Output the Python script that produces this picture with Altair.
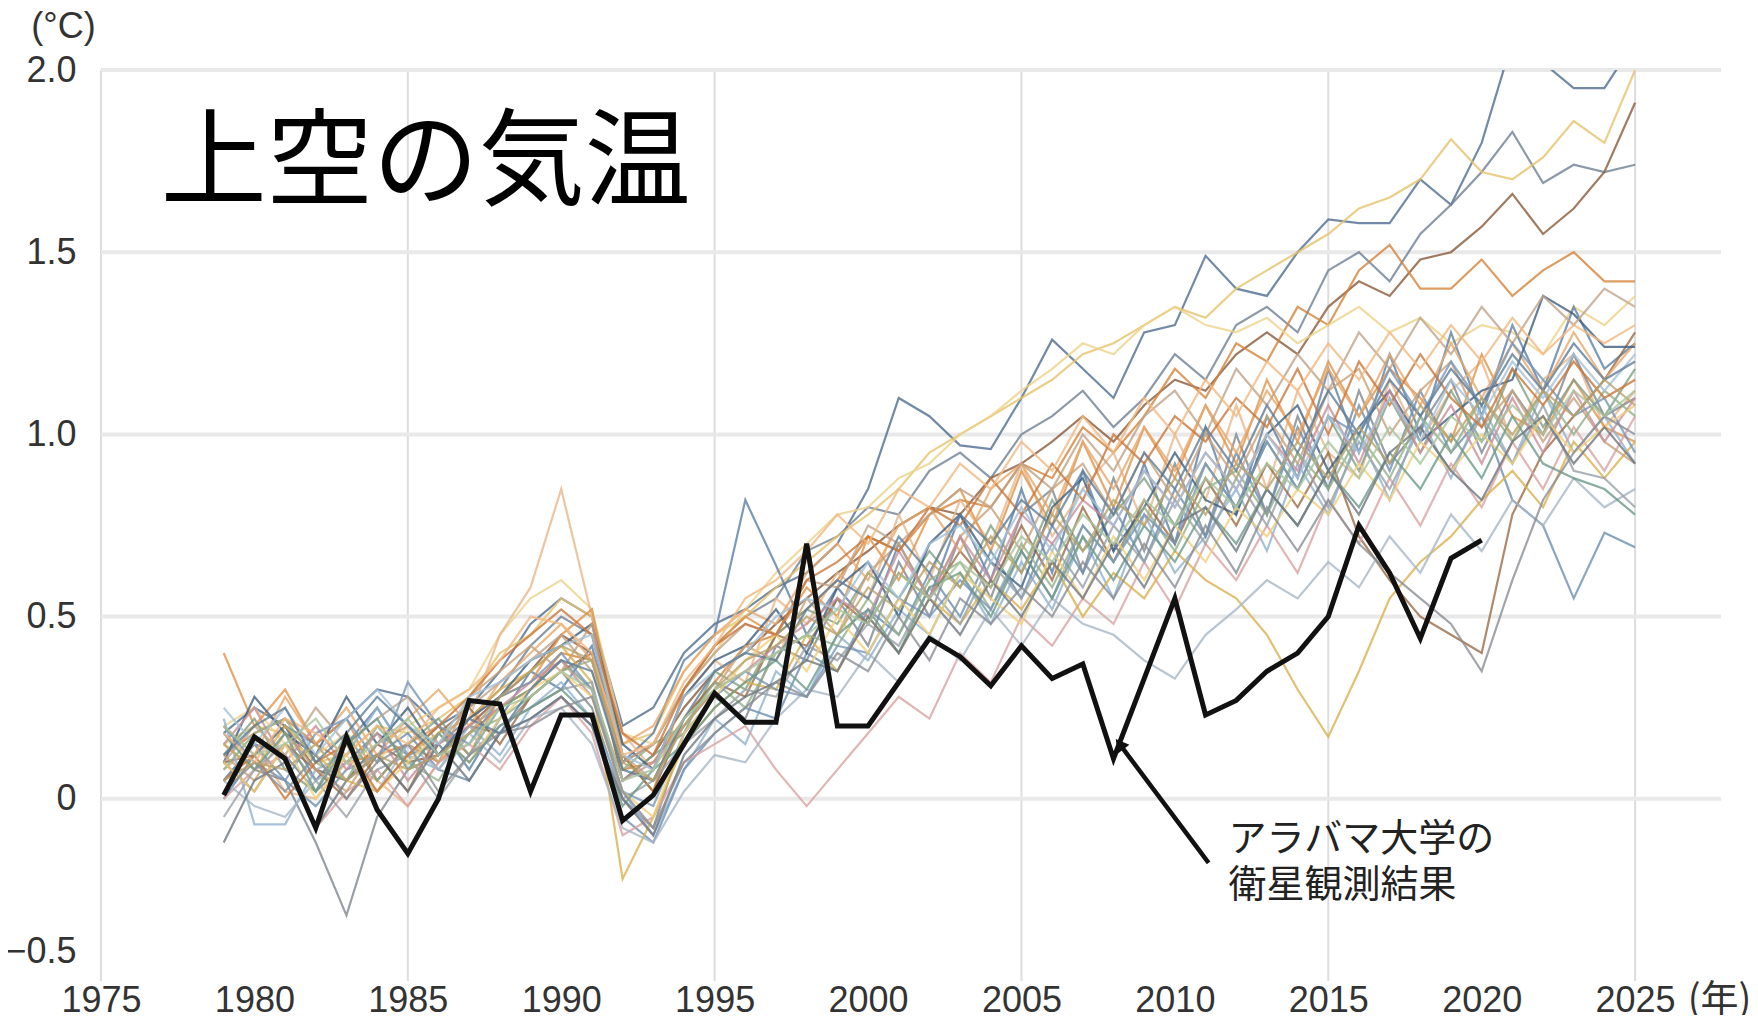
import altair as alt
import pandas as pd

# ---------------- data ----------------
years = list(range(1979, 2026))          # model years (47)
obs_years = list(range(1979, 2021))      # observation years (42)

# UAH satellite observations (black line)
obs = [0.01, 0.17, 0.11, -0.08, 0.17, -0.03, -0.15, 0.00, 0.27, 0.26,
       0.02, 0.23, 0.23, -0.06, 0.01, 0.15, 0.29, 0.21, 0.21, 0.70,
       0.20, 0.20, 0.32, 0.44, 0.39, 0.31, 0.42, 0.33, 0.37, 0.11,
       0.33, 0.55, 0.23, 0.27, 0.35, 0.40, 0.50, 0.75, 0.62, 0.44,
       0.66, 0.71]

m01 = [0.18, 0.25, 0.20, 0.15, 0.22, 0.30, 0.28, 0.20, 0.25, 0.35,
       0.48, 0.55, 0.50, 0.20, 0.25, 0.40, 0.48, 0.52, 0.58, 0.62,
       0.70, 0.85, 1.10, 1.05, 0.97, 0.96, 1.10, 1.26, 1.18, 1.10,
       1.28, 1.30, 1.49, 1.40, 1.38, 1.50, 1.59, 1.58, 1.58, 1.70,
       1.63, 1.80, 2.08, 2.02, 1.95, 1.95, 2.08]
m02 = [0.05, 0.15, 0.12, 0.02, 0.10, 0.18, 0.12, 0.15, 0.22, 0.30,
       0.42, 0.50, 0.45, 0.10, 0.15, 0.30, 0.42, 0.50, 0.55, 0.68,
       0.72, 0.80, 0.78, 0.90, 0.95, 0.88, 1.00, 1.05, 1.12, 1.02,
       1.10, 1.22, 1.15, 1.30, 1.35, 1.28, 1.45, 1.50, 1.42, 1.55,
       1.63, 1.72, 1.83, 1.69, 1.74, 1.72, 1.74]
m03 = [0.10, 0.12, 0.20, 0.08, 0.05, 0.15, 0.10, 0.12, 0.20, 0.28,
       0.35, 0.45, 0.40, 0.05, 0.12, 0.25, 0.35, 0.40, 0.48, 0.55,
       0.62, 0.68, 0.75, 0.80, 0.78, 0.88, 0.92, 0.98, 1.05, 0.98,
       1.08, 1.15, 1.12, 1.22, 1.28, 1.22, 1.35, 1.42, 1.38, 1.48,
       1.50, 1.57, 1.66, 1.55, 1.62, 1.72, 1.91]
m04 = [0.15, 0.20, 0.18, 0.10, 0.12, 0.20, 0.18, 0.22, 0.28, 0.40,
       0.45, 0.55, 0.50, 0.15, 0.18, 0.35, 0.45, 0.50, 0.58, 0.65,
       0.72, 0.78, 0.85, 0.95, 1.00, 1.05, 1.10, 1.15, 1.22, 1.25,
       1.30, 1.35, 1.32, 1.40, 1.45, 1.50, 1.55, 1.62, 1.65, 1.70,
       1.81, 1.72, 1.70, 1.76, 1.86, 1.80, 2.00]
m05 = [0.12, 0.18, 0.22, 0.15, 0.10, 0.12, 0.15, 0.10, 0.18, 0.25,
       0.30, 0.40, 0.38, 0.08, 0.10, 0.22, 0.32, 0.42, 0.45, 0.52,
       0.60, 0.72, 0.68, 0.78, 0.82, 0.80, 0.92, 0.88, 1.02, 0.95,
       1.05, 1.18, 1.10, 1.25, 1.20, 1.35, 1.30, 1.45, 1.52, 1.40,
       1.40, 1.48, 1.38, 1.45, 1.50, 1.42, 1.42]
m06 = [0.20, 0.25, 0.15, 0.12, 0.18, 0.10, 0.20, 0.25, 0.30, 0.45,
       0.55, 0.60, 0.52, 0.18, 0.15, 0.30, 0.40, 0.52, 0.62, 0.70,
       0.78, 0.80, 0.88, 0.92, 1.00, 1.05, 1.12, 1.18, 1.25, 1.22,
       1.30, 1.35, 1.30, 1.28, 1.32, 1.25, 1.30, 1.35, 1.28, 1.32,
       1.25, 1.30, 1.28, 1.22, 1.35, 1.30, 1.38]
m07 = [0.00, 0.12, 0.20, 0.05, 0.15, 0.25, 0.12, 0.20, 0.08, 0.22,
       0.35, 0.30, 0.42, 0.10, 0.18, 0.38, 0.45, 0.82, 0.64, 0.45,
       0.58, 0.48, 0.70, 0.55, 0.78, 0.60, 0.85, 0.62, 0.90, 0.68,
       0.92, 0.70, 1.02, 0.78, 1.05, 0.88, 1.18, 0.95, 1.22, 1.00,
       1.28, 1.05, 1.30, 1.12, 1.35, 1.18, 1.25]
m08 = [0.08, 0.15, 0.02, 0.00, 0.10, 0.05, -0.02, 0.10, 0.22, 0.45,
       0.58, 0.85, 0.50, 0.18, 0.08, 0.28, 0.38, 0.32, 0.55, 0.48,
       0.62, 0.55, 0.78, 0.60, 0.82, 0.70, 0.92, 0.72, 0.85, 0.95,
       0.75, 1.00, 0.82, 1.08, 0.85, 1.12, 0.95, 0.88, 1.15, 0.98,
       1.12, 1.20, 0.98, 1.15, 1.22, 1.02, 1.12]
m09 = [0.15, 0.08, 0.05, -0.12, -0.32, -0.05, 0.08, 0.12, 0.20, 0.18,
       0.28, 0.35, 0.25, 0.00, -0.08, 0.18, 0.28, 0.22, 0.42, 0.38,
       0.55, 0.42, 0.65, 0.50, 0.72, 0.55, 0.78, 0.85, 0.62, 0.88,
       0.68, 0.92, 0.72, 1.00, 0.78, 1.05, 0.85, 1.12, 0.92, 1.02,
       1.15, 0.95, 1.12, 1.00, 1.22, 1.05, 1.10]
m10 = [0.40, 0.20, 0.30, 0.15, 0.22, 0.05, 0.15, 0.20, 0.12, 0.28,
       0.32, 0.45, 0.52, 0.12, 0.02, 0.30, 0.42, 0.50, 0.45, 0.58,
       0.50, 0.72, 0.60, 0.78, 0.85, 0.68, 0.90, 0.75, 0.98, 0.80,
       1.02, 0.88, 1.08, 0.92, 1.15, 0.98, 1.20, 1.05, 1.18, 1.10,
       0.98, 1.22, 1.05, 1.00, 1.15, 1.02, 0.98]
m11 = [0.22, -0.07, -0.07, 0.08, 0.12, 0.25, 0.12, 0.08, 0.20, 0.12,
       0.25, 0.32, 0.22, 0.02, -0.10, 0.08, 0.22, 0.15, 0.35, 0.28,
       0.45, 0.38, 0.52, 0.45, 0.62, 0.48, 0.65, 0.52, 0.72, 0.55,
       0.78, 0.62, 0.72, 0.85, 0.68, 0.92, 0.78, 1.00, 0.82, 1.05,
       0.88, 1.08, 0.92, 1.12, 0.95, 1.05, 0.92]
m12 = [0.05, 0.15, 0.05, -0.02, 0.08, 0.12, 0.18, 0.08, 0.05, 0.18,
       0.22, 0.28, 0.20, -0.05, -0.12, 0.08, 0.18, 0.25, 0.22, 0.40,
       0.35, 0.52, 0.45, 0.62, 0.50, 0.68, 0.55, 0.75, 0.62, 0.80,
       0.65, 0.85, 0.72, 0.95, 0.78, 1.02, 0.85, 1.08, 0.90, 1.12,
       0.95, 1.05, 0.82, 0.75, 0.55, 0.73, 0.69]
m13 = [0.12, 0.22, 0.08, 0.02, 0.18, 0.05, 0.15, 0.22, 0.12, 0.25,
       0.30, 0.38, 0.30, 0.05, 0.12, 0.18, 0.35, 0.30, 0.45, 0.52,
       0.48, 0.62, 0.55, 0.68, 0.58, 0.75, 0.62, 0.82, 0.68, 0.78,
       0.88, 0.75, 0.92, 0.80, 0.98, 0.85, 1.05, 0.90, 1.10, 0.95,
       1.12, 0.98, 1.18, 1.02, 1.15, 1.05, 1.18]
m14 = [0.10, 0.02, 0.15, 0.08, 0.00, 0.12, 0.02, 0.18, 0.25, 0.15,
       0.28, 0.35, 0.40, 0.12, 0.02, 0.22, 0.32, 0.28, 0.45, 0.42,
       0.55, 0.48, 0.62, 0.55, 0.68, 0.58, 0.75, 0.60, 0.80, 0.65,
       0.82, 0.70, 0.88, 0.75, 0.92, 0.80, 0.95, 0.72, 0.60, 0.50,
       0.45, 0.40, 0.78, 0.95, 1.05, 1.15, 1.28]
m15 = [0.00, 0.08, 0.12, -0.08, 0.02, 0.08, -0.02, 0.10, 0.15, 0.08,
       0.20, 0.28, 0.18, -0.10, -0.05, 0.10, 0.15, 0.20, 0.08, -0.02,
       0.08, 0.18, 0.28, 0.22, 0.40, 0.32, 0.50, 0.42, 0.55, 0.48,
       0.65, 0.52, 0.70, 0.60, 0.75, 0.62, 0.82, 0.70, 0.88, 0.75,
       0.92, 0.80, 0.98, 0.85, 1.02, 0.90, 1.05]
m16 = [0.15, 0.08, 0.20, 0.12, 0.05, 0.02, 0.12, 0.18, 0.22, 0.30,
       0.35, 0.42, 0.32, -0.22, -0.05, 0.15, 0.25, 0.32, 0.30, 0.45,
       0.35, 0.50, 0.40, 0.55, 0.48, 0.60, 0.52, 0.65, 0.50, 0.62,
       0.55, 0.68, 0.60, 0.55, 0.45, 0.30, 0.17, 0.35, 0.55, 0.65,
       0.72, 0.82, 0.90, 0.80, 0.98, 0.88, 0.98]
m17 = [0.05, -0.02, -0.05, 0.05, 0.10, 0.02, 0.15, 0.08, 0.18, 0.10,
       0.22, 0.25, 0.15, -0.08, -0.12, 0.02, 0.12, 0.10, 0.22, 0.30,
       0.28, 0.40, 0.32, 0.45, 0.38, 0.52, 0.42, 0.55, 0.48, 0.45,
       0.38, 0.33, 0.45, 0.52, 0.60, 0.55, 0.65, 0.58, 0.72, 0.62,
       0.78, 0.68, 0.82, 0.75, 0.88, 0.80, 0.85]
m18 = [0.20, 0.12, 0.28, 0.15, 0.25, 0.12, 0.22, 0.30, 0.20, 0.32,
       0.40, 0.48, 0.38, 0.15, 0.20, 0.35, 0.45, 0.52, 0.48, 0.62,
       0.70, 0.60, 0.75, 0.80, 0.68, 0.85, 0.92, 0.78, 0.98, 0.85,
       1.02, 0.90, 1.08, 0.95, 1.12, 1.00, 1.18, 1.05, 1.22, 1.08,
       1.25, 1.10, 1.25, 1.12, 1.28, 1.15, 1.25]
m19 = [0.10, 0.28, 0.18, 0.12, 0.28, 0.15, 0.25, 0.12, 0.22, 0.28,
       0.38, 0.42, 0.48, 0.15, 0.08, 0.28, 0.38, 0.42, 0.52, 0.40,
       0.58, 0.65, 0.50, 0.70, 0.78, 0.65, 0.58, 0.80, 0.88, 0.68,
       0.80, 0.95, 0.82, 0.78, 1.00, 1.08, 0.90, 1.02, 1.12, 0.98,
       1.05, 1.12, 1.15, 1.38, 1.33, 1.24, 1.24]
m20 = [0.12, 0.05, 0.18, 0.08, 0.02, 0.15, 0.20, 0.10, 0.28, 0.35,
       0.42, 0.35, 0.48, 0.12, 0.05, 0.22, 0.30, 0.42, 0.38, 0.55,
       0.45, 0.62, 0.70, 0.55, 0.72, 0.80, 0.68, 0.85, 0.92, 0.78,
       0.95, 0.82, 1.00, 0.88, 1.05, 0.92, 1.12, 1.18, 1.00, 1.12,
       1.20, 1.02, 1.12, 0.98, 1.10, 0.98, 0.92]
m21 = [-0.05, 0.08, 0.15, 0.05, -0.05, 0.08, 0.12, 0.00, 0.12, 0.20,
       0.25, 0.30, 0.32, 0.00, 0.05, 0.15, 0.22, 0.30, 0.28, 0.42,
       0.38, 0.48, 0.42, 0.58, 0.48, 0.65, 0.55, 0.70, 0.58, 0.75,
       0.65, 0.82, 0.70, 0.88, 0.75, 0.95, 0.80, 0.98, 0.85, 1.02,
       0.90, 1.05, 0.92, 1.08, 0.90, 0.88, 0.80]
m22 = [0.15, 0.25, 0.10, 0.20, 0.08, 0.18, 0.05, 0.15, 0.20, 0.25,
       0.32, 0.38, 0.28, 0.05, 0.10, 0.20, 0.30, 0.35, 0.42, 0.48,
       0.55, 0.50, 0.68, 0.55, 0.72, 0.60, 0.78, 0.70, 0.82, 0.75,
       0.90, 0.80, 0.95, 0.85, 1.00, 0.90, 1.08, 0.92, 1.12, 0.95,
       1.08, 0.92, 1.10, 0.95, 1.12, 0.98, 1.10]
m23 = [0.08, 0.18, 0.22, 0.10, 0.05, 0.20, 0.10, 0.05, 0.18, 0.22,
       0.28, 0.35, 0.38, 0.08, 0.15, 0.20, 0.32, 0.25, 0.40, 0.45,
       0.42, 0.55, 0.45, 0.60, 0.65, 0.52, 0.70, 0.58, 0.75, 0.65,
       0.80, 0.68, 0.85, 0.90, 0.78, 0.95, 0.85, 1.00, 0.88, 1.05,
       0.95, 1.10, 0.98, 1.12, 1.00, 1.12, 1.05]
m24 = [0.10, 0.20, 0.12, 0.25, 0.15, 0.22, 0.28, 0.15, 0.25, 0.32,
       0.38, 0.45, 0.35, 0.10, 0.15, 0.30, 0.40, 0.48, 0.45, 0.60,
       0.58, 0.75, 0.70, 0.78, 0.85, 0.80, 0.92, 0.85, 1.00, 0.90,
       1.05, 1.12, 1.00, 1.18, 1.08, 1.22, 1.12, 1.28, 1.18, 1.32,
       1.22, 1.35, 1.25, 1.38, 1.30, 1.40, 1.35]
m25 = [0.20, 0.10, 0.05, 0.18, 0.22, 0.10, 0.32, 0.20, 0.15, 0.28,
       0.32, 0.40, 0.30, 0.02, -0.02, 0.18, 0.28, 0.35, 0.30, 0.28,
       0.42, 0.40, 0.55, 0.50, 0.60, 0.52, 0.68, 0.55, 0.75, 0.65,
       0.78, 0.70, 0.92, 0.80, 0.98, 0.85, 1.05, 1.00, 1.18, 1.05,
       1.20, 1.08, 1.25, 1.15, 1.05, 1.10, 0.95]
m26 = [0.10, 0.02, 0.15, 0.00, 0.12, 0.02, 0.10, 0.18, 0.10, 0.22,
       0.30, 0.35, 0.28, 0.02, -0.05, 0.18, 0.28, 0.38, 0.45, 0.35,
       0.50, 0.40, 0.55, 0.45, 0.62, 0.55, 0.48, 0.68, 0.55, 0.72,
       0.60, 0.75, 0.65, 0.80, 0.72, 0.85, 0.78, 0.92, 0.82, 0.98,
       0.90, 1.00, 0.92, 1.05, 0.95, 1.02, 1.08]
m27 = [0.05, 0.12, 0.00, 0.10, 0.15, 0.02, 0.12, 0.20, 0.28, 0.38,
       0.45, 0.52, 0.45, 0.18, 0.12, 0.30, 0.42, 0.48, 0.45, 0.60,
       0.65, 0.72, 0.68, 0.80, 0.75, 0.88, 0.78, 0.92, 0.82, 1.00,
       0.92, 1.05, 0.98, 1.10, 1.02, 1.18, 1.00, 1.20, 1.08, 1.22,
       1.10, 1.02, 1.18, 1.08, 1.20, 1.10, 1.15]
m28 = [0.18, 0.08, 0.18, 0.02, 0.15, 0.22, 0.08, 0.18, 0.10, 0.20,
       0.25, 0.30, 0.22, -0.02, 0.08, 0.15, 0.25, 0.32, 0.38, 0.30,
       0.45, 0.52, 0.40, 0.58, 0.62, 0.50, 0.68, 0.55, 0.72, 0.60,
       0.75, 0.65, 0.80, 0.70, 0.85, 0.75, 0.90, 0.80, 0.95, 0.85,
       1.00, 0.88, 1.05, 0.92, 0.88, 0.85, 0.78]
m29 = [-0.12, 0.05, 0.10, -0.08, 0.05, 0.12, 0.02, 0.15, 0.05, 0.18,
       0.22, 0.28, 0.20, 0.00, -0.10, 0.12, 0.22, 0.28, 0.32, 0.38,
       0.35, 0.50, 0.40, 0.55, 0.45, 0.60, 0.50, 0.65, 0.55, 0.70,
       0.58, 0.75, 0.80, 0.68, 0.85, 0.75, 0.90, 0.78, 0.95, 1.02,
       0.90, 0.82, 0.98, 1.05, 0.92, 1.02, 0.92]
m30 = [0.25, 0.15, 0.25, 0.12, 0.22, 0.30, 0.20, 0.15, 0.28, 0.32,
       0.38, 0.42, 0.45, 0.12, 0.08, 0.28, 0.35, 0.40, 0.50, 0.55,
       0.52, 0.65, 0.55, 0.70, 0.75, 0.65, 0.80, 0.68, 0.85, 0.75,
       0.90, 0.80, 0.95, 0.85, 1.00, 0.88, 1.05, 0.95, 1.10, 0.98,
       1.15, 1.05, 1.20, 1.10, 1.22, 1.12, 1.22]
m31 = [0.02, 0.10, 0.02, 0.12, 0.00, 0.10, 0.15, 0.02, 0.12, 0.18,
       0.20, 0.25, 0.28, 0.02, -0.08, 0.10, 0.18, 0.25, 0.32, 0.28,
       0.40, 0.35, 0.50, 0.38, 0.55, 0.48, 0.58, 0.50, 0.65, 0.55,
       0.70, 0.58, 0.75, 0.62, 0.80, 0.68, 0.82, 0.70, 0.62, 0.55,
       0.48, 0.35, 0.60, 0.82, 0.95, 1.05, 1.00]
m32 = [0.18, 0.10, 0.22, 0.18, 0.12, 0.20, 0.15, 0.25, 0.30, 0.38,
       0.50, 0.48, 0.40, 0.12, 0.15, 0.32, 0.42, 0.55, 0.60, 0.68,
       0.78, 0.70, 0.85, 0.80, 0.92, 0.85, 0.98, 0.90, 1.05, 0.95,
       1.10, 1.00, 1.15, 1.05, 1.20, 1.12, 1.25, 1.15, 1.28, 1.18,
       1.30, 1.20, 1.32, 1.22, 1.30, 1.25, 1.30]
m33 = [0.12, 0.20, 0.25, 0.10, 0.18, 0.28, 0.20, 0.12, 0.22, 0.18,
       0.30, 0.38, 0.35, 0.08, 0.05, 0.22, 0.35, 0.40, 0.38, 0.52,
       0.60, 0.55, 0.72, 0.62, 0.78, 0.70, 0.82, 0.75, 0.90, 0.78,
       0.95, 0.85, 1.02, 0.90, 1.08, 0.95, 1.12, 1.00, 1.15, 1.05,
       1.18, 1.08, 1.22, 1.12, 1.25, 1.15, 1.20]
m34 = [0.05, 0.10, 0.08, 0.15, 0.05, 0.12, 0.08, 0.12, 0.18, 0.28,
       0.35, 0.42, 0.38, 0.10, 0.05, 0.20, 0.30, 0.38, 0.42, 0.50,
       0.45, 0.58, 0.52, 0.65, 0.58, 0.72, 0.62, 0.78, 0.68, 0.82,
       0.75, 0.88, 0.78, 0.92, 0.85, 0.98, 0.88, 1.02, 0.92, 1.08,
       0.98, 1.10, 1.00, 1.12, 1.05, 1.15, 1.08]
m35 = [0.20, 0.12, 0.15, 0.22, 0.10, 0.15, 0.22, 0.12, 0.15, 0.25,
       0.28, 0.35, 0.30, 0.05, 0.08, 0.22, 0.30, 0.35, 0.40, 0.45,
       0.52, 0.48, 0.62, 0.55, 0.65, 0.58, 0.72, 0.65, 0.78, 0.70,
       0.82, 0.75, 0.88, 0.80, 0.92, 0.85, 0.98, 0.88, 1.02, 0.92,
       1.05, 0.98, 1.08, 1.00, 1.12, 1.05, 1.12]

model_series = [m01, m02, m03, m04, m05, m06, m07, m08, m09, m10,
                m11, m12, m13, m14, m15, m16, m17, m18, m19, m20,
                m21, m22, m23, m24, m25, m26, m27, m28, m29, m30,
                m31, m32, m33, m34, m35]
model_colors = ["#4f6d8f", "#6f7f94", "#8a5a3a", "#e6c36a", "#d6833a",
                "#ecd38a", "#5b7fa6", "#e8b68a", "#7f8790", "#e0944a",
                "#8fb3cf", "#6d8fb0", "#7fa083", "#9b6b45", "#d9a3a3",
                "#d9b24e", "#a8b6c4", "#e8a86a", "#3f5f7f", "#c8a27a",
                "#9aa1a8", "#c98f9a", "#93b08a", "#bfa38a", "#7896b8",
                "#f0cf7a", "#c9773c", "#6d9a8a", "#6f7780", "#a4c2d8",
                "#8a8f95", "#f2b880", "#5f7d99", "#b8a36a", "#a9c49f"]
model_names = [f"model{i + 1:02d}" for i in range(len(model_series))]

x_ticks = [1975, 1980, 1985, 1990, 1995, 2000, 2005, 2010, 2015, 2020, 2025]
x_grid = [1975, 1985, 1995, 2005, 2015, 2025]
y_ticks = [-0.5, 0, 0.5, 1.0, 1.5, 2.0]
y_grid = [0, 0.5, 1.0, 1.5, 2.0]

title_text = ["上空の気温"]
title_pos = [(1976.95, 1.74)]
note_text = ["アラバマ大学の\n衛星観測結果"]
note_pos = [(2011.75, -0.112)]
arrow_tail = (2011.1, -0.176)
arrow_head = (2008.2, 0.15)

# ---------------- tables ----------------
rows = []
for name, vals in zip(model_names, model_series):
    for yr, v in zip(years, vals):
        rows.append({"model": name, "year": yr, "value": v})
df_models = pd.DataFrame(rows)
df_obs = pd.DataFrame({"year": obs_years, "value": obs})
df_xgrid = pd.DataFrame({"year": x_grid})
df_ygrid = pd.DataFrame({"value": y_grid})
df_title = pd.DataFrame({"year": [p[0] for p in title_pos],
                         "value": [p[1] for p in title_pos],
                         "label": title_text})
df_note = pd.DataFrame({"year": [p[0] for p in note_pos],
                        "value": [p[1] for p in note_pos],
                        "label": note_text})
df_arrow = pd.DataFrame({"year": [arrow_tail[0]], "value": [arrow_tail[1]],
                         "year2": [arrow_head[0]], "value2": [arrow_head[1]]})
df_head = pd.DataFrame({"year": [arrow_head[0]], "value": [arrow_head[1]]})

# ---------------- scales / axes ----------------
NUM_FONT = "Liberation Sans, Arial, sans-serif"
JP_FONT = "Noto Sans CJK JP"

xscale = alt.Scale(domain=[1975, 2027.8], nice=False, zero=False)
yscale = alt.Scale(domain=[-0.5, 2.0], nice=False, zero=False)

xaxis = alt.Axis(values=x_ticks, format="d", grid=False, ticks=False, domain=False,
                 labelFont=NUM_FONT, labelFontSize=36, labelColor="#333333",
                 labelPadding=2, labelFlush=False, labelOverlap=False,
                 title="(年)", titleFont=JP_FONT, titleFontSize=38,
                 titleFontWeight="normal", titleColor="#333333",
                 titleX=1618, titleY=19, titleAlign="center", titleBaseline="middle")
yaxis = alt.Axis(values=y_ticks, grid=False, ticks=False, domain=False,
                 labelExpr="datum.value == 0 ? '0' : format(datum.value, '.1f')",
                 labelFont=NUM_FONT, labelFontSize=36, labelColor="#333333",
                 labelPadding=25, labelFlush=False, labelOverlap=False,
                 labelOffset={"condition": {"test": "datum.value == -0.5", "value": -30}, "value": 0},
                 title="(°C)", titleFont=NUM_FONT, titleFontSize=36,
                 titleFontWeight="normal", titleColor="#333333", titleAngle=0,
                 titleX=-38, titleY=-44, titleAlign="center", titleBaseline="middle")

X = alt.X("year:Q", scale=xscale, axis=xaxis)
Y = alt.Y("value:Q", scale=yscale, axis=yaxis)

# ---------------- layers ----------------
vgrid = alt.Chart(df_xgrid).mark_rule(color="#dddddd", strokeWidth=2).encode(x=X)
hgrid = alt.Chart(df_ygrid).mark_rule(color="#e9e9e9", strokeWidth=4).encode(y=Y)

models = alt.Chart(df_models).mark_line(strokeWidth=2.2, opacity=0.8, clip=True).encode(
    x=X, y=Y,
    color=alt.Color("model:N", scale=alt.Scale(domain=model_names, range=model_colors),
                    legend=None),
    detail="model:N",
)

obs_line = alt.Chart(df_obs).mark_line(color="#111111", strokeWidth=5,
                                       strokeJoin="miter").encode(x=X, y=Y)

arrow = alt.Chart(df_arrow).mark_rule(color="#111111", strokeWidth=4.5).encode(
    x=X, y=Y, x2="year2:Q", y2="value2:Q")
head = alt.Chart(df_head).mark_point(shape="triangle-up", filled=True, size=220,
                                     angle=323, color="#111111", opacity=1).encode(x=X, y=Y)

title = alt.Chart(df_title).mark_text(font=JP_FONT, fontSize=106, fontWeight="normal",
                                      align="left", baseline="middle",
                                      color="#000000").encode(x=X, y=Y, text="label:N")
note = alt.Chart(df_note).mark_text(font=JP_FONT, fontSize=38, align="left",
                                    baseline="middle", lineBreak="\n", lineHeight=46,
                                    color="#222222").encode(x=X, y=Y, text="label:N")

chart = alt.layer(vgrid, hgrid, models, obs_line, arrow, head, title, note).properties(
    width=1620, height=911,
    autosize=alt.AutoSizeParams(type="none"),
    padding={"left": 93, "top": 62, "right": 29, "bottom": 34},
    background="white",
).configure_view(stroke=None)

chart.save("out.html", embed_options={"renderer": "svg", "actions": False})
